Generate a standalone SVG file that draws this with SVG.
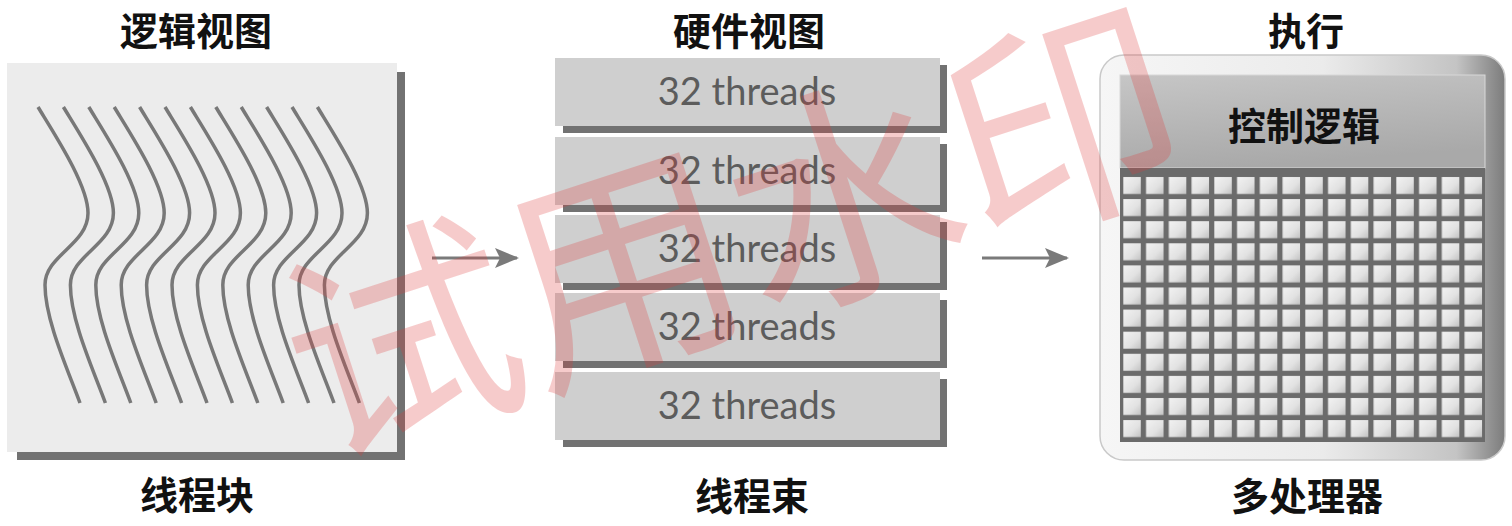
<svg xmlns="http://www.w3.org/2000/svg" width="1512" height="526" viewBox="0 0 1512 526">
<style>
.title{font-family:"Noto Sans CJK SC","Noto Sans",sans-serif;font-weight:bold;font-size:38px;fill:#111;text-anchor:middle}
.thr{font-family:Lato,"Liberation Sans",sans-serif;font-size:38px;fill:#5c5c5c;text-anchor:middle}
.bar{fill:#cfcfcf}
.shadow{fill:#727272}
.wave{fill:none;stroke:#787878;stroke-width:3.5}
.arrow{stroke:#7a7a7a;stroke-width:3;fill:none}
.wm{font-family:"Noto Sans CJK SC",sans-serif;font-size:232px;fill:#e03c3c;opacity:0.26;text-anchor:middle}
</style>
<defs>
<path id="w" class="wave" d="M38,107 C55,135 88,185 88,213 C88,245 45,255 45,285 C45,320 68,370 80,403"/>
<linearGradient id="frame" x1="0" y1="0" x2="1" y2="0">
<stop offset="0" stop-color="#f6f6f6"/>
<stop offset="0.55" stop-color="#ebebeb"/>
<stop offset="0.88" stop-color="#c4c4c4"/>
<stop offset="1" stop-color="#7c7c7c"/>
</linearGradient>
<linearGradient id="ctrl" x1="0" y1="0" x2="0.3" y2="1">
<stop offset="0" stop-color="#c6c6c6"/>
<stop offset="1" stop-color="#a9a9a9"/>
</linearGradient>
<linearGradient id="cellg" x1="0" y1="0" x2="1" y2="1">
<stop offset="0" stop-color="#f2f2f2"/>
<stop offset="0.6" stop-color="#e2e2e2"/>
<stop offset="1" stop-color="#c2c2c2"/>
</linearGradient>
<pattern id="cells" x="1122" y="176" width="22.75" height="22.1" patternUnits="userSpaceOnUse">
<rect x="1.3" y="1" width="17.5" height="17" fill="url(#cellg)"/>
</pattern>
<marker id="ah" viewBox="0 0 24 20" refX="22" refY="10" markerWidth="24" markerHeight="20" markerUnits="userSpaceOnUse" orient="auto">
<path d="M0,0 L24,10 L0,20 L5,10 Z" fill="#7a7a7a"/>
</marker>
</defs>

<rect x="0" y="0" width="1512" height="526" fill="#ffffff"/>

<g id="title-logic"><text class="title" x="196" y="45">逻辑视图</text></g>
<g id="title-hw"><text class="title" x="749" y="45">硬件视图</text></g>
<g id="title-exec"><text class="title" x="1306" y="45">执行</text></g>

<g id="thread-block">
<rect class="shadow" x="17" y="72" width="388" height="388"/>
<rect x="7" y="63" width="390" height="389" fill="#ececec"/>
<use href="#w"/>
<use href="#w" transform="translate(25.4,0)"/>
<use href="#w" transform="translate(50.8,0)"/>
<use href="#w" transform="translate(76.2,0)"/>
<use href="#w" transform="translate(101.6,0)"/>
<use href="#w" transform="translate(127,0)"/>
<use href="#w" transform="translate(152.4,0)"/>
<use href="#w" transform="translate(177.8,0)"/>
<use href="#w" transform="translate(203.2,0)"/>
<use href="#w" transform="translate(228.6,0)"/>
<use href="#w" transform="translate(254,0)"/>
<use href="#w" transform="translate(279.4,0)"/>
<text class="title" x="197" y="509">线程块</text>
</g>

<g id="warps">
<g id="warp1"><rect class="shadow" x="563" y="65" width="384" height="68"/><rect class="bar" x="555" y="58" width="385" height="68"/><text class="thr" x="747" y="105">32 threads</text></g>
<g id="warp2"><rect class="shadow" x="563" y="144" width="384" height="68"/><rect class="bar" x="555" y="137" width="385" height="68"/><text class="thr" x="747" y="184">32 threads</text></g>
<g id="warp3"><rect class="shadow" x="563" y="222" width="384" height="68"/><rect class="bar" x="555" y="215" width="385" height="68"/><text class="thr" x="747" y="262">32 threads</text></g>
<g id="warp4"><rect class="shadow" x="563" y="300" width="384" height="68"/><rect class="bar" x="555" y="293" width="385" height="68"/><text class="thr" x="747" y="340">32 threads</text></g>
<g id="warp5"><rect class="shadow" x="563" y="379" width="384" height="68"/><rect class="bar" x="555" y="372" width="385" height="68"/><text class="thr" x="747" y="419">32 threads</text></g>
<text class="title" x="752" y="510">线程束</text>
</g>

<g id="multiprocessor">
<rect x="1100" y="55" width="405" height="405" rx="24" ry="24" fill="url(#frame)" stroke="#c9c9c9" stroke-width="1.5"/>
<rect x="1120" y="75" width="365" height="93" fill="url(#ctrl)" stroke="#d8d8d8" stroke-width="1"/>
<text class="title" x="1304" y="140">控制逻辑</text>
<rect x="1120" y="168" width="365" height="274" fill="#6b6b6b"/>
<rect x="1122" y="176" width="364" height="265.2" fill="url(#cells)"/>
<text class="title" x="1307" y="510">多处理器</text>
</g>

<g id="connectors">
<line class="arrow" x1="432" y1="258" x2="517" y2="258" marker-end="url(#ah)"/>
<line class="arrow" x1="982" y1="258" x2="1067" y2="258" marker-end="url(#ah)"/>
</g>

<g id="watermark" transform="translate(728,218) rotate(-18)">
<text class="wm" x="0" y="0" dominant-baseline="central">试用水印</text>
</g>
</svg>
